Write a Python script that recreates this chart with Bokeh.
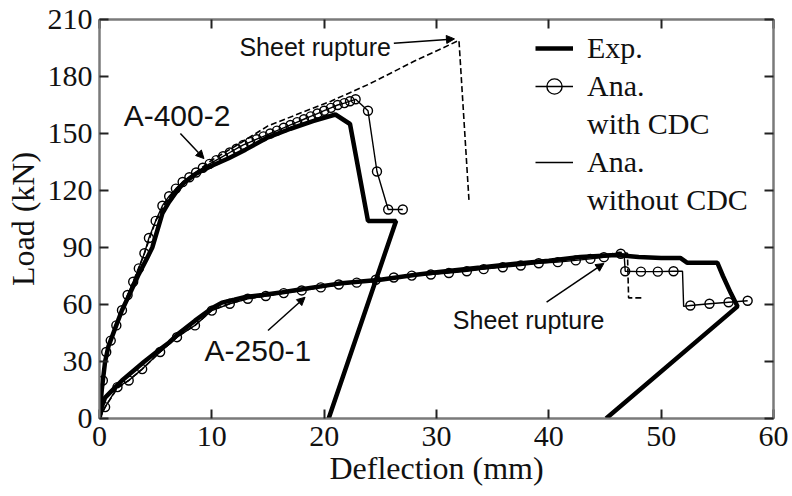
from bokeh.plotting import figure
from bokeh.models import (LinearAxis, Range1d, Legend, LegendItem, Label, Arrow,
                          NormalHead, ColumnDataSource, FixedTicker)
from bokeh.embed import file_html
from bokeh.resources import INLINE

# ---------------- data ----------------
x_ticks = [0, 10, 20, 30, 40, 50, 60]
y_ticks = [0, 30, 60, 90, 120, 150, 180, 210]

# A-400-2 experiment
exp400_x = [0, 0.2, 0.5, 0.8, 1.3, 2.0, 2.8, 3.5, 4.2, 4.7, 5.2, 5.6, 6.2, 6.8, 7.5, 8.5,
            10.0, 11.5, 13.0, 15.0, 17.0, 19.0, 21.0, 22.3, 23.9, 26.4, 20.4]
exp400_y = [0, 15, 30, 38, 46, 57, 67, 76, 84, 90, 100, 108, 114, 119, 124, 128.5,
            133, 137, 141.5, 148, 152.5, 156.5, 160, 155, 104, 104, 0]

# A-400-2 analysis with CDC
cdc400_x = [0.3, 0.6, 1.0, 1.5, 2.0, 2.5, 3.0, 3.5, 4.0, 4.4, 5.0, 5.6, 6.2, 6.8, 7.4,
            8.0, 8.6, 9.2, 9.8, 10.4, 11.0, 11.6, 12.2, 12.8, 13.4, 14.0, 14.6, 15.2,
            15.8, 16.4, 17.0, 17.6, 18.2, 18.8, 19.4, 20.0, 20.6, 21.2, 21.8, 22.3,
            22.8, 23.9, 24.7, 25.7, 27.0]
cdc400_y = [20, 35, 41, 49, 57, 65, 72, 79, 87, 95, 104, 112, 117, 121, 124.5,
            127, 129.5, 132, 134, 136, 138, 140, 142, 144, 145.5, 147, 148.5, 150,
            151.5, 153, 154.5, 156, 157.5, 159, 160.5, 162, 163.5, 165, 166, 167,
            168, 162, 130, 110, 110]

# A-400-2 analysis without CDC
nocdc400_x = [0, 0.3, 0.6, 1.0, 2.0, 3.0, 4.0, 5.0, 6.0, 7.0, 8.0, 10.0, 12.0, 15.0,
              18.0, 20.6, 24.0, 28.0, 32.0, 32.9]
nocdc400_y = [0, 20, 35, 41, 57, 72, 87, 104, 115, 122, 127, 136, 143, 154,
              161, 167, 176, 188, 199, 114]

# A-250-1 experiment
exp250_x = [0, 0.2, 0.5, 1.0, 2.0, 3.0, 4.0, 5.3, 6.2, 7.1, 8.5, 10.0, 10.9, 12.0, 13.0,
            14.5, 16.3, 18.0, 21.3, 25.0, 28.0, 30.0, 33.9, 37.0, 40.0, 42.8, 46.0,
            48.0, 50.0, 51.7, 52.3, 55.0, 55.5, 56.2, 56.8, 45.1]
exp250_y = [0, 6, 11, 14, 20, 25, 30, 36, 40, 45, 51.5, 58, 61, 62.5, 64,
            65, 66.5, 68, 71, 73, 75.5, 77, 79.5, 81.5, 83, 85, 86,
            85, 84.5, 84.5, 82, 82, 75, 66, 59, 0]

# A-250-1 analysis with CDC (line points; circle markers where cdc250_mark is 1)
cdc250_x = [0, 0.5, 1.6, 2.6, 3.8, 5.4, 6.9, 8.5, 10.0, 11.6, 13.2, 14.8, 16.4, 18.0,
            19.7, 21.3, 22.9, 24.6, 26.2, 27.8, 29.5, 31.1, 32.7, 34.2, 35.9, 37.5,
            39.1, 40.8, 42.4, 43.7, 44.9, 46.4, 46.7, 46.8, 48.2, 49.7, 51.1, 51.9,
            52.0, 52.6, 54.3, 56.0, 57.7]
cdc250_y = [0, 6, 16.5, 20, 26, 35, 42.8, 49, 56.8, 60.4, 63, 64.5, 66, 67.4,
            69, 70.5, 71.5, 73, 74.2, 75.2, 75.8, 76.6, 77.5, 78.6, 79.6, 80.5,
            81.7, 82.3, 83.2, 84, 84.9, 86.7, 86.5, 77.5, 77.3, 77.3, 77.5, 77.5,
            59, 59.5, 60.4, 61.2, 62]
cdc250_mark = [0, 1, 1, 1, 1, 1, 1, 1, 1, 1, 1, 1, 1, 1,
               1, 1, 1, 1, 1, 1, 1, 1, 1, 1, 1, 1,
               1, 1, 1, 1, 1, 1, 0, 1, 1, 1, 1, 0,
               0, 1, 1, 1, 1]

# A-250-1 analysis without CDC
nocdc250_x = [0, 0.5, 1.6, 2.6, 3.8, 5.4, 6.9, 8.5, 10.0, 11.6, 13.2, 16.4, 19.7, 22.9,
              26.2, 29.5, 32.7, 35.9, 39.1, 42.4, 44.9, 46.3, 47.0, 47.1, 48.5]
nocdc250_y = [0, 6, 16, 20, 26, 35, 43, 49, 57, 60.5, 63, 66, 69, 71.7,
              74.4, 76, 77.8, 80, 82, 84.5, 86, 87.5, 87, 63.5, 63.5]

# annotations: (text, x, y)
labels = [("A-400-2", 6.9, 159.5), ("A-250-1", 14.1, 35.8),
          ("Sheet rupture", 19.2, 195.5), ("Sheet rupture", 38.2, 51.6)]
# arrows: (x_start, y_start, x_end, y_end)
arrows = [(7.2, 150, 9.3, 136.8), (15.0, 46.3, 18.3, 63.8),
          (26.2, 197.5, 31.6, 199.8), (39.8, 61.2, 44.9, 81.6)]

# ---------------- figure ----------------
GRAY = "#7a7a7a"
SERIF = "Liberation Serif"
SANS = "Liberation Sans"
NAN = float("nan")

p = figure(width=792, height=496, x_range=Range1d(0, 60), y_range=Range1d(0, 210),
           output_backend="svg", toolbar_location=None,
           min_border_left=99, min_border_right=19, min_border_top=19,
           min_border_bottom=78)
p.grid.visible = False
p.outline_line_color = GRAY
p.outline_line_width = 2
p.background_fill_color = "white"

for ax in (p.xaxis[0], p.yaxis[0]):
    ax.axis_line_color = GRAY
    ax.axis_line_width = 2
    ax.major_tick_in = 9
    ax.major_tick_out = 0
    ax.major_tick_line_color = "#222222"
    ax.major_tick_line_width = 2
    ax.minor_tick_line_color = None
    ax.major_label_text_font = SERIF
    ax.major_label_text_font_size = "30px"
    ax.major_label_text_color = "#111111"
    ax.axis_label_text_font = SERIF
    ax.axis_label_text_font_size = "32px"
    ax.axis_label_text_font_style = "normal"
    ax.axis_label_text_color = "#111111"

p.xaxis.ticker = FixedTicker(ticks=x_ticks)
p.yaxis.ticker = FixedTicker(ticks=y_ticks)
p.xaxis.axis_label = "Deflection (mm)"
p.yaxis.axis_label = "Load (kN)"
p.xaxis.major_label_standoff = 8
p.yaxis.major_label_standoff = 7
p.xaxis.axis_label_standoff = 1
p.yaxis.axis_label_standoff = 4

top = LinearAxis(ticker=FixedTicker(ticks=x_ticks))
right = LinearAxis(ticker=FixedTicker(ticks=y_ticks))
top.major_label_overrides = {t: "" for t in x_ticks}
right.major_label_overrides = {t: "" for t in y_ticks}
for ax in (top, right):
    ax.axis_line_color = GRAY
    ax.axis_line_width = 2
    ax.major_tick_in = 9
    ax.major_tick_out = 0
    ax.major_tick_line_color = "#222222"
    ax.major_tick_line_width = 2
    ax.minor_tick_line_color = None
    ax.major_label_text_font_size = "10px"
    ax.major_label_standoff = 0
p.add_layout(top, "above")
p.add_layout(right, "right")

# experiment curves
p.line(exp400_x, exp400_y, line_color="black", line_width=4.5)
p.line(exp250_x, exp250_y, line_color="black", line_width=4.5)

# analysis without CDC
p.line(nocdc400_x, nocdc400_y, line_color="black", line_width=1.6, line_dash="6 3")
p.line(nocdc250_x, nocdc250_y, line_color="black", line_width=1.6, line_dash="6 3")

# analysis with CDC
p.line(cdc400_x, cdc400_y, line_color="black", line_width=1.4)
p.scatter(cdc400_x, cdc400_y, marker="circle", size=9, line_color="black",
          line_width=1.4, fill_color=None)
p.line(cdc250_x, cdc250_y, line_color="black", line_width=1.4)
mx = [x for x, m in zip(cdc250_x, cdc250_mark) if m]
my = [y for y, m in zip(cdc250_y, cdc250_mark) if m]
p.scatter(mx, my, marker="circle", size=9, line_color="black",
          line_width=1.4, fill_color=None)

# annotations
for txt, lx, ly in labels:
    size = "25px" if txt.startswith("Sheet") else "30px"
    p.add_layout(Label(x=lx, y=ly, text=txt, text_font=SANS, text_font_size=size,
                       text_align="center", text_baseline="middle",
                       text_color="#111111"))
for xs, ys, xe, ye in arrows:
    p.add_layout(Arrow(x_start=xs, y_start=ys, x_end=xe, y_end=ye,
                       line_color="black", line_width=1.5,
                       end=NormalHead(size=8, fill_color="black", line_color="black")))

# legend (placeholder renderers with no visible data carry the legend styling)
def blank():
    return ColumnDataSource(data=dict(x=[NAN], y=[NAN]))

r_exp = p.line("x", "y", source=blank(), line_color="black", line_width=4.5)
r_cdc_l = p.line("x", "y", source=blank(), line_color="black", line_width=1.4)
r_cdc_m = p.scatter("x", "y", source=blank(), marker="circle", size=9,
                    line_color="black", line_width=1.4, fill_color=None)
r_no = p.line("x", "y", source=blank(), line_color="black", line_width=1.4)
r_blank = p.line("x", "y", source=blank(), line_alpha=0)

legend = Legend(items=[
    LegendItem(label="Exp.", renderers=[r_exp]),
    LegendItem(label="Ana.", renderers=[r_cdc_l, r_cdc_m]),
    LegendItem(label="with CDC", renderers=[r_blank]),
    LegendItem(label="Ana.", renderers=[r_no]),
    LegendItem(label="without CDC", renderers=[r_blank]),
], location=(436, 199))
legend.border_line_color = None
legend.background_fill_alpha = 0
legend.label_text_font = SERIF
legend.label_text_font_size = "30px"
legend.label_text_color = "#111111"
legend.glyph_width = 38
legend.glyph_height = 38
legend.label_height = 38
legend.label_standoff = 14
legend.spacing = 0
legend.padding = 0
legend.margin = 0
p.add_layout(legend)

open("out.html", "w").write(file_html(p, INLINE))
